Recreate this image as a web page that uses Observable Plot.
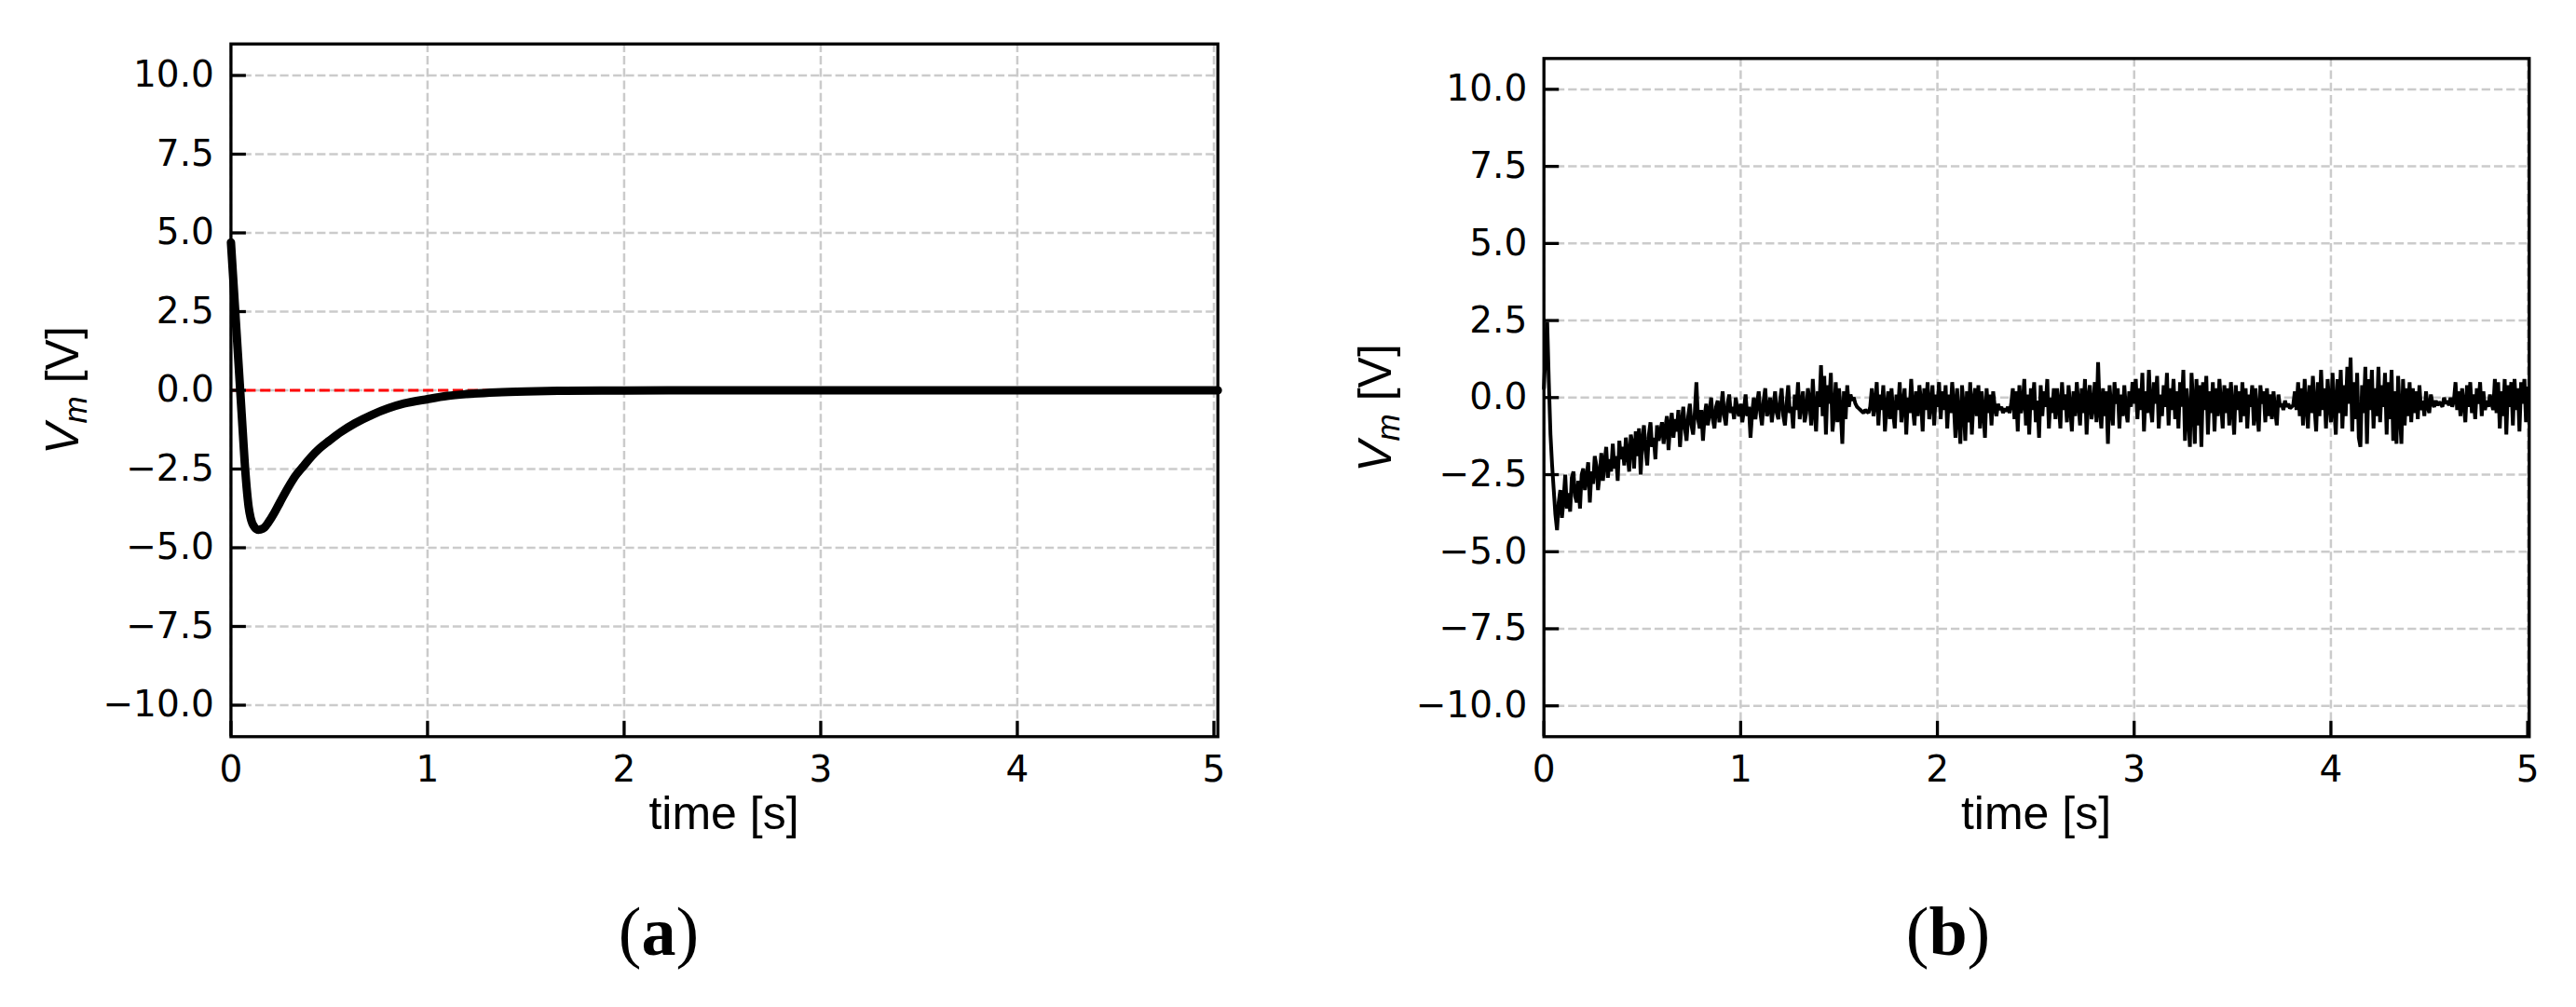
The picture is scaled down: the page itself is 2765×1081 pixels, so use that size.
<!DOCTYPE html>
<html>
<head>
<meta charset="utf-8">
<script src="https://cdn.jsdelivr.net/npm/d3@7"></script>
<script src="https://cdn.jsdelivr.net/npm/@observablehq/plot@0.6"></script>
<style>
  html, body { margin: 0; padding: 0; background: #ffffff; }
  #page { position: relative; width: 2765px; height: 1081px; overflow: hidden; background: #ffffff; }
  .panel { position: absolute; top: 0; }
  #overlay { position: absolute; left: 0; top: 0; pointer-events: none; }
</style>
</head>
<body>
<div id="page">
  <div id="panelA" class="panel" style="left:0px"></div>
  <div id="panelB" class="panel" style="left:1400px"></div>
</div>
<script>
// ---------------- data ----------------
const xTicks = [0, 1, 2, 3, 4, 5];
const yTicks = [-10, -7.5, -5, -2.5, 0, 2.5, 5, 7.5, 10];
const referenceLevel = [0];

// (a) simulated response
const simTime = [0, 0.01, 0.02, 0.03, 0.04, 0.05, 0.06, 0.07, 0.08, 0.09, 0.10, 0.12, 0.14, 0.15, 0.17, 0.19,
  0.22, 0.25, 0.29, 0.33, 0.37, 0.41, 0.45, 0.50, 0.56, 0.63, 0.72, 0.80, 0.88, 1.0, 1.1, 1.2, 1.35, 1.5,
  1.7, 2.0, 2.5, 3.0, 4.0, 5.02];
const simVm = [4.7, 3.7, 2.7, 1.7, 0.7, -0.3, -1.3, -2.3, -3.1, -3.7, -4.05, -4.35, -4.43, -4.42, -4.36, -4.2,
  -3.9, -3.55, -3.1, -2.7, -2.4, -2.1, -1.85, -1.6, -1.32, -1.05, -0.77, -0.57, -0.42, -0.28, -0.18, -0.12, -0.065, -0.035,
  -0.015, -0.005, 0, 0, 0, 0];

// (b) measured response, sampled every 1/120 s (one row = 0.2 s)
const measSampleStep = 1 / 120;
const measVm = [
  0.3, 1.5, 2.45, 0.5, -1.2, -2.2, -3.0, -3.8, -4.3, -3.4, -3.0, -3.9, -3.3, -2.5, -3.6, -3.1, -3.7, -2.6, -2.4, -3.2, -3.4, -2.7, -3.6, -2.5,
  -2.3, -3.0, -2.6, -2.1, -3.4, -2.4, -2.8, -1.9, -2.2, -3.0, -2.5, -1.8, -2.7, -2.1, -1.6, -2.6, -2.0, -2.4, -1.5, -2.3, -1.9, -2.7, -1.4, -2.0,
  -1.6, -2.2, -1.3, -1.8, -2.4, -1.2, -1.5, -2.3, -1.1, -1.9, -1.0, -2.5, -1.4, -0.9, -1.7, -2.2, -1.2, -0.8, -1.6, -1.3, -2.0, -0.9, -1.4, -1.1,
  -0.8, -1.5, -1.0, -0.6, -1.7, -0.9, -0.5, -1.3, -0.7, -1.1, -0.4, -1.6, -0.8, -0.3, -1.0, -1.4, -0.6, -0.2, -0.9, -1.2, -0.5, 0.5, -0.7, -1.0,
  -0.4, -1.4, -0.6, -0.2, -0.9, -0.5, 0.0, -0.7, -1.0, -0.3, -0.1, -0.8, -0.4, 0.2, -0.6, -0.9, -0.2, 0.1, -0.5, -0.3, -0.7, 0.0, -0.4, -0.6,
  -0.2, -0.8, -0.4, 0.1, -0.6, -0.3, -1.3, -0.5, 0.0, -0.7, -0.2, 0.2, -0.5, -0.9, -0.1, 0.3, -0.6, -0.4, 0.0, -0.8, -0.3, 0.2, -0.5, -0.7,
  -0.1, 0.3, -0.6, -0.9, -0.2, 0.4, -0.5, -0.3, -1.0, 0.1, -0.4, 0.5, -0.7, -0.2, 0.2, -0.8, -0.5, 0.3, -0.1, -0.9, 0.6, -0.4, -1.1, 0.2,
  -0.3, 1.05, -0.6, 0.7, -1.2, 0.4, -0.2, 0.8, -1.1, -0.5, 0.5, -0.8, 0.3, -0.4, -1.5, 0.2, -0.7, 0.4, -0.3, 0.1, -0.1, 0.0, -0.2, -0.3,
  -0.35, -0.4, -0.45, -0.5, -0.4, -0.45, -0.5, -0.3, 0.3, -0.6, -0.2, 0.5, -0.9, 0.1, -0.4, 0.4, -1.1, -0.3, 0.2, -0.7, 0.3, -0.5, -1.0, 0.1,
  -0.4, 0.5, -0.8, -0.2, 0.3, -1.2, 0.0, -0.5, 0.6, -0.3, -0.9, 0.2, -0.6, 0.4, -0.1, -1.1, 0.3, -0.4, 0.5, -0.7, -0.2, 0.4, -0.9, 0.1,
  -0.3, 0.5, -0.7, 0.2, -0.4, 0.4, -1.0, 0.1, -0.5, 0.5, -0.2, -1.3, 0.3, -0.6, -1.5, 0.4, -0.3, -1.4, 0.2, -0.8, 0.5, -1.2, -0.1, 0.3,
  -0.6, 0.4, -1.0, 0.2, -0.4, -1.3, 0.3, -0.5, 0.1, -0.9, 0.2, -0.3, -0.6, -0.2, -0.4, -0.3, -0.5, -0.35, -0.45, -0.3, -0.5, -0.2, 0.3, -0.7,
  0.2, -1.1, 0.4, -0.5, -0.2, 0.6, -0.9, 0.1, -1.2, 0.3, -0.4, 0.5, -0.8, -0.1, -1.3, 0.4, -0.6, 0.2, -0.3, 0.6, -1.0, 0.0, -0.5, 0.3,
  -0.7, 0.3, -0.2, -1.0, 0.5, -0.4, 0.1, -0.8, 0.4, -0.3, -1.1, 0.2, -0.6, 0.5, -0.2, -0.9, 0.3, -0.5, 0.6, -1.2, 0.0, 0.4, -0.7, -0.3,
  0.5, -0.8, 1.15, -0.4, -1.0, 0.3, -0.6, 0.2, -1.5, 0.4, -0.3, -0.9, 0.5, -0.2, 0.3, -1.0, 0.1, -0.6, 0.4, -0.4, -0.8, 0.2, -0.3, 0.5,
  -0.2, 0.6, -0.7, 0.3, -0.4, 0.8, -1.1, 0.2, -0.5, 0.9, -0.3, -0.8, 0.5, -0.2, 0.7, -1.0, 0.1, -0.6, 0.4, -0.3, 0.8, -0.9, 0.3, -0.4,
  0.6, -0.7, 0.2, -1.0, 0.5, -0.3, 0.9, -1.4, 0.3, -0.6, -1.6, 0.8, -0.2, -1.5, 0.6, -0.9, 0.4, -1.6, 0.5, -0.4, 0.7, -1.2, 0.2, -0.5,
  0.5, -1.1, 0.3, -0.6, 0.6, -0.2, -1.0, 0.4, -0.5, 0.3, -0.9, 0.5, -0.3, -1.2, 0.4, -0.4, 0.2, -0.8, 0.5, -0.6, 0.3, -1.0, 0.1, -0.3,
  0.4, -0.9, 0.3, -0.5, -1.1, 0.4, -0.2, 0.2, -0.8, 0.3, -0.6, 0.1, -0.7, 0.2, -0.4, -0.9, 0.1, -0.3, -0.2, -0.4, -0.1, -0.3, -0.2, -0.35,
  -0.3, -0.25, 0.2, -0.4, 0.5, -0.6, 0.3, -0.9, 0.6, -0.2, -1.0, 0.4, -0.5, 0.7, -0.3, -1.1, 0.5, -0.6, 0.9, -0.4, 0.3, -1.0, 0.6, -0.2,
  -0.8, 0.8, -0.3, -1.2, 0.6, -0.5, 0.9, -1.0, 0.4, -0.6, 1.0, -0.2, 1.3, -1.1, 0.5, -0.7, 0.8, -1.3, -1.6, 0.4, -0.5, 1.0, -1.5, 0.6,
  -0.4, 0.9, -1.0, 0.3, -0.6, 1.0, -0.8, 0.4, -0.3, 0.8, -1.2, 0.5, -0.7, 0.9, -1.4, 0.2, -1.5, 0.7, -0.5, -1.5, 0.6, -0.9, 0.3, -0.6,
  0.5, -0.8, 0.3, -0.5, 0.2, -0.7, 0.4, -0.4, -0.1, -0.6, 0.2, -0.3, -0.5, 0.1, -0.2, -0.3, -0.1, -0.25, -0.15, -0.2, -0.3, 0.0, -0.2, -0.1,
  -0.25, 0.0, -0.3, -0.1, 0.5, -0.4, 0.2, -0.6, 0.3, -0.2, -0.8, 0.4, -0.3, 0.5, -0.5, 0.1, -0.7, 0.3, -0.2, 0.5, -0.6, 0.2, -0.4, -0.1,
  -0.3, 0.1, -0.2, -0.4, 0.6, -0.5, 0.5, -1.0, 0.2, -0.6, 0.6, -1.2, 0.4, -0.3, 0.5, -0.9, 0.6, -0.4, 0.3, -1.1, 0.5, -0.2, 0.6, -0.8,
  0.3
];

const xLabel = "time [s]";
const yLabelMain = "V";
const yLabelSub = "m";
const yLabelUnit = " [V]";
const panelLetters = ["a", "b"];

// ---------------- drawing ----------------
const simData = simTime.map((t, i) => ({t, v: simVm[i]}));
const measData = measVm.map((v, i) => ({t: i * measSampleStep, v}));

const H = 900;
const tickLen = 16.5;
const axisW = 3.3;
const gridStyle = {stroke: "#cbcbcb", strokeOpacity: 1, strokeWidth: 2.5, strokeDasharray: "9.25,4"};

function panel({width, marginLeft, marginRight, marginTop, marginBottom, xMax, lineMarks}) {
  const plotW = width - marginLeft - marginRight;
  const plotH = H - marginTop - marginBottom;
  return Plot.plot({
    width, height: H,
    marginLeft, marginRight, marginTop, marginBottom,
    x: {domain: [0, xMax]},
    y: {domain: [-11, 11]},
    style: {fontFamily: "'DejaVu Sans', sans-serif", fontSize: "39px", color: "black", background: "white", overflow: "visible"},
    marks: [
      Plot.gridX(xTicks, gridStyle),
      Plot.gridY(yTicks, gridStyle),
      ...lineMarks,
      Plot.tickY(yTicks, {y: d => d, insetRight: plotW - tickLen, strokeWidth: axisW, stroke: "black"}),
      Plot.tickX(xTicks, {x: d => d, insetTop: plotH - tickLen, strokeWidth: axisW, stroke: "black"}),
      Plot.frame({stroke: "black", strokeWidth: axisW}),
      Plot.axisX(xTicks, {tickSize: 0, tickPadding: 20, tickFormat: d3.format("d"), label: null}),
      Plot.axisY(yTicks, {tickSize: 0, tickPadding: 18, tickFormat: d3.format(".1f"), label: null})
    ]
  });
}

const chartA = panel({
  width: 1380, marginLeft: 247.4, marginRight: 1380 - 1306.7, marginTop: 46.7, marginBottom: H - 790.3,
  xMax: 5.02,
  lineMarks: [
    Plot.ruleY(referenceLevel, {stroke: "#ff0000", strokeWidth: 3, strokeDasharray: "11.1,4.8"}),
    Plot.line(simData, {x: "t", y: "v", stroke: "black", strokeWidth: 9, curve: "monotone-x", strokeLinejoin: "round"})
  ]
});
document.getElementById("panelA").appendChild(chartA);

const chartB = panel({
  width: 1365, marginLeft: 256.7, marginRight: 1365 - 1314.3, marginTop: 62.3, marginBottom: H - 790.3,
  xMax: 5.008,
  lineMarks: [
    Plot.line(measData, {x: "t", y: "v", stroke: "black", strokeWidth: 4, curve: "linear", strokeLinejoin: "miter"})
  ]
});
document.getElementById("panelB").appendChild(chartB);

// ---------------- labels ----------------
const svg = d3.select("#page").append("svg")
  .attr("id", "overlay").attr("width", 2765).attr("height", 1081);

function xLab(cx) {
  svg.append("text").attr("x", cx).attr("y", 890)
    .attr("text-anchor", "middle")
    .attr("font-family", "'Liberation Sans', Arial, sans-serif").attr("font-size", 50)
    .attr("fill", "black").text(xLabel);
}
function yLab(bx, cy) {
  const t = svg.append("text")
    .attr("transform", `translate(${bx},${cy}) rotate(-90)`)
    .attr("text-anchor", "middle")
    .attr("font-family", "'Liberation Sans', Arial, sans-serif").attr("font-size", 50)
    .attr("fill", "black");
  t.append("tspan").attr("font-style", "italic").text(yLabelMain);
  t.append("tspan").attr("font-style", "italic").attr("font-size", 35).attr("dy", 9).text(yLabelSub);
  t.append("tspan").attr("dy", -9).text(yLabelUnit);
}
function letter(cx, s) {
  const t = svg.append("text").attr("x", cx).attr("y", 1025)
    .attr("text-anchor", "middle")
    .attr("font-family", "'Liberation Serif', 'Times New Roman', serif").attr("font-size", 74)
    .attr("fill", "black");
  t.append("tspan").text("(");
  t.append("tspan").attr("font-weight", "bold").text(s);
  t.append("tspan").text(")");
}
xLab(777);
xLab(2185.5);
yLab(84, 419);
yLab(1493, 438);
letter(707, panelLetters[0]);
letter(2091, panelLetters[1]);
</script>
</body>
</html>
